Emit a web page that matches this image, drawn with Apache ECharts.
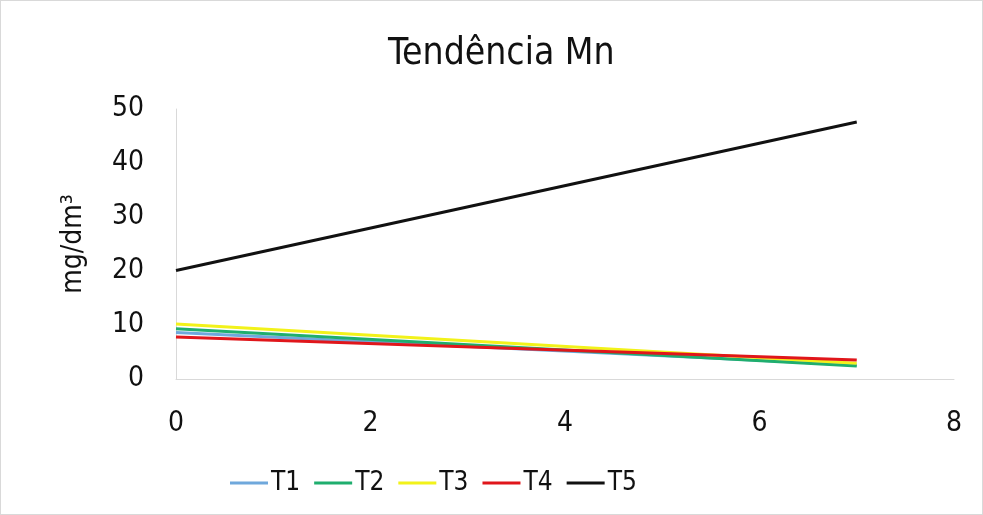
<!DOCTYPE html>
<html>
<head>
<meta charset="utf-8">
<script src="https://cdn.jsdelivr.net/npm/echarts@6/dist/echarts.min.js"></script>
<style>
html,body{margin:0;padding:0;background:#fff;}
#chart{width:983px;height:515px;box-sizing:border-box;border:1px solid #d9d9d9;}
</style>
</head>
<body>
<div id="chart"></div>
<script>
// dados (x = tempo, y = Mn em mg/dm3)
var xValues = [0, 7];
var t1 = [8.6, 2.6];
var t2 = [9.3, 2.4];
var t3 = [10.2, 2.9];
var t4 = [7.8, 3.5];
var t5 = [20.1, 47.6];
var seriesNames = ['T1', 'T2', 'T3', 'T4', 'T5'];
var seriesColors = ['#6fa8dc', '#1fae6e', '#f2f21a', '#e0161b', '#111111'];

var font = '"Liberation Sans Narrow", "DejaVu Sans Condensed", "Noto Sans", sans-serif';

function pairs(ys) {
    return xValues.map(function (x, i) { return [x, ys[i]]; });
}

var allData = [t1, t2, t3, t4, t5];
var series = allData.map(function (ys, i) {
    return {
        name: seriesNames[i],
        type: 'line',
        data: pairs(ys),
        symbol: 'none',
        lineStyle: { width: 3, color: seriesColors[i] },
        itemStyle: { color: seriesColors[i] }
    };
});

var option = {
    animation: false,
    title: {
        text: 'Tendência Mn',
        left: 382,
        top: 30,
        textStyle: { fontFamily: font, fontSize: 37, fontWeight: 'normal', color: '#111' }
    },
    legend: {
        data: seriesNames,
        top: 464,
        left: 224,
        itemWidth: 38,
        itemHeight: 3,
        itemGap: 14,
        icon: 'rect',
        textStyle: { fontFamily: font, fontSize: 26, color: '#111', padding: [0, 0, 0, -2] }
    },
    grid: { left: 175, right: 28, top: 108, bottom: 135 },
    xAxis: {
        type: 'value',
        min: 0,
        max: 8,
        interval: 2,
        axisLine: { lineStyle: { color: '#d9d9d9', width: 1 } },
        axisTick: { show: false },
        splitLine: { show: false },
        axisLabel: { fontFamily: font, fontSize: 28, color: '#111', margin: 31 }
    },
    yAxis: {
        type: 'value',
        min: 0,
        max: 50,
        interval: 10,
        name: 'mg/dm³',
        nameLocation: 'middle',
        nameGap: 88,
        nameRotate: 90,
        nameTextStyle: { fontFamily: font, fontSize: 28, color: '#111' },
        axisLine: { show: true, lineStyle: { color: '#d9d9d9', width: 1 } },
        axisTick: { show: false },
        splitLine: { show: false },
        axisLabel: { fontFamily: font, fontSize: 28, color: '#111', margin: 32 }
    },
    series: series
};

var mychart = echarts.init(document.getElementById('chart'));
mychart.setOption(option);
</script>
</body>
</html>
